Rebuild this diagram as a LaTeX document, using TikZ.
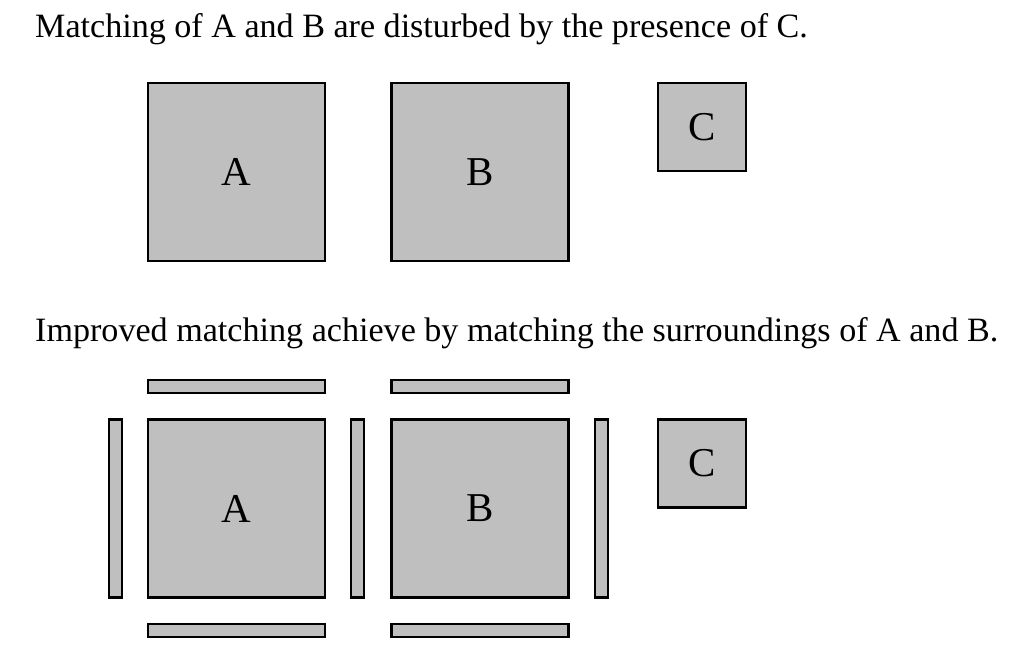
\documentclass[tikz,border=0pt]{standalone}
\usepackage{fontspec}
\setmainfont{Liberation Serif}
\usetikzlibrary{positioning}
\tikzset{
  sblk/.style={draw, line width=2.2pt, fill=black!25, inner sep=0pt,
               font=\fontsize{41}{48}\selectfont},
  bigb/.style={sblk, minimum width=177pt, minimum height=178pt},
  smlb/.style={sblk, minimum width=88pt, minimum height=88pt},
  hbar/.style={sblk, minimum width=177pt, minimum height=13pt},
  vbar/.style={sblk, minimum width=13pt, minimum height=178pt},
  capt/.style={anchor=base west, inner sep=0pt, font=\fontsize{34.1}{40}\selectfont},
}

\begin{document}
\begin{tikzpicture}[x=1pt, y=-1pt, node distance=24pt]
        \useasboundingbox (0,0) rectangle (1018,658);
        % upper row
        \node[capt](t1) at (35,38){Matching of A and B are disturbed by the presence of C.};
        \node[bigb](a1) at (236.5,172){A};
        \node[bigb](b1) at (480,172){B};
        \node[smlb](c1) at (702,127){C};
        % lower row, with the surroundings
        \node[capt](t2) at (35,341){Improved matching achieve by matching the surroundings of A and B.};
        \node[bigb](a2) at (236.5,508.5){A};
        \node[bigb](b2) at (480,508.5){B};
        \node[smlb](c2) at (702,463.5){C};
        \node[hbar, above=of a2](ta){};
        \node[hbar, below=of a2](ba){};
        \node[hbar, above=of b2](tb){};
        \node[hbar, below=of b2](bb){};
        \node[vbar, left=of a2](la){};
        \node[vbar, right=of a2](ma){};
        \node[vbar, right=of b2](rb){};
      \end{tikzpicture}
\end{document}
